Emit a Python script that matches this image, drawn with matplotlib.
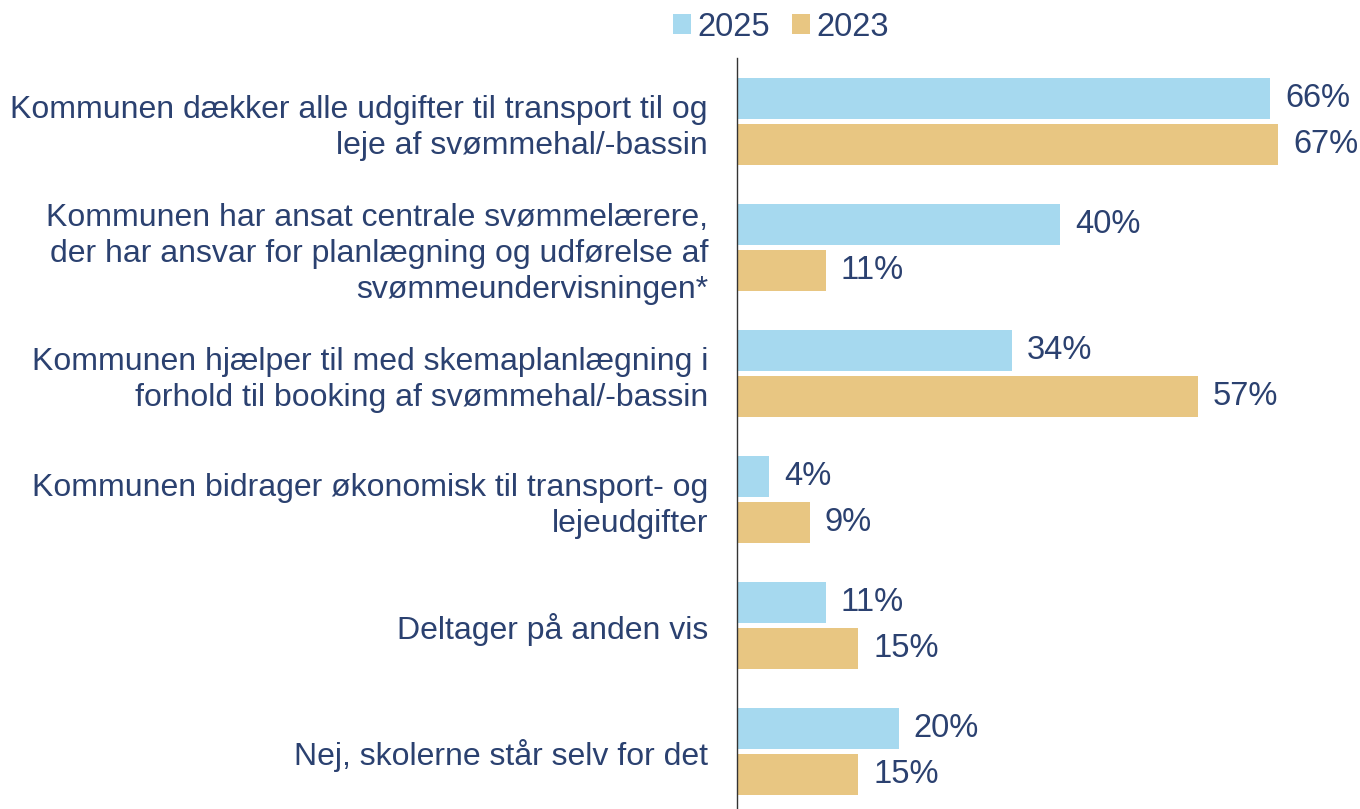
import matplotlib.pyplot as plt
import numpy as np

plt.rcParams['font.family'] = ['Liberation Sans', 'DejaVu Sans']

categories = [
    'Kommunen dækker alle udgifter til transport til og\nleje af svømmehal/-bassin',
    'Kommunen har ansat centrale svømmelærere,\nder har ansvar for planlægning og udførelse af\nsvømmeundervisningen*',
    'Kommunen hjælper til med skemaplanlægning i\nforhold til booking af svømmehal/-bassin',
    'Kommunen bidrager økonomisk til transport- og\nlejeudgifter',
    'Deltager på anden vis',
    'Nej, skolerne står selv for det',
]
vals_2025 = [66, 40, 34, 4, 11, 20]
vals_2023 = [67, 11, 57, 9, 15, 15]
series_names = ['2025', '2023']

txt_col = '#2B4170'
col_2025 = '#A6D9EF'
col_2023 = '#E8C682'

fig = plt.figure(figsize=(13.6, 8.09), dpi=100)
ax = fig.add_axes([737/1360, 0, 623/1360, 751/809])

y = np.arange(len(categories))
off = 23/126
h = 41/126
b1 = ax.barh(y - off, vals_2025, height=h, color=col_2025, label=series_names[0])
b2 = ax.barh(y + off, vals_2023, height=h, color=col_2023, label=series_names[1])

# value labels right of bars
for bars, vals in [(b1, vals_2025), (b2, vals_2023)]:
    for bar, v in zip(bars, vals):
        ax.annotate(f'{v}%', (bar.get_width(), bar.get_y() + bar.get_height()/2),
                    xytext=(15, 0), textcoords='offset pixels',
                    va='center', ha='left', fontsize=23.5, color=txt_col)

ax.set_xlim(0, 623/8.08)
ax.set_ylim(5.456, -0.504)
ax.set_yticks(y)
ax.set_yticklabels(categories, fontsize=23, color=txt_col, ha='right', linespacing=1.27)
ax.tick_params(axis='y', length=0, pad=29*72/100)
ax.set_xticks([])
for s in ['top', 'right', 'bottom']:
    ax.spines[s].set_visible(False)
ax.spines['left'].set_color('#333333')
ax.spines['left'].set_linewidth(1)

fig.legend(handles=[b1, b2], labels=series_names, loc='center', bbox_to_anchor=(781/1360, 1 - 27/809),
           ncol=2, frameon=False, fontsize=23.5, labelcolor=txt_col,
           handlelength=0.55, handleheight=0.55, handletextpad=0.2, columnspacing=0.65)

fig.savefig('out.png', dpi=100)
